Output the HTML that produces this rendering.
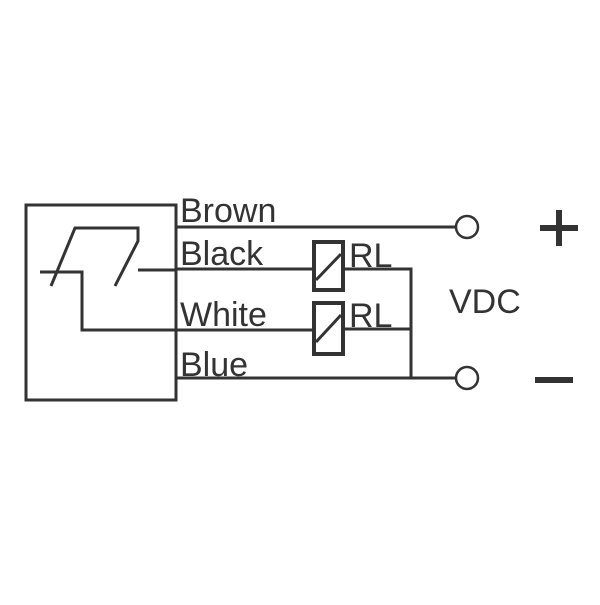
<!DOCTYPE html>
<html><head><style>html,body{margin:0;padding:0;background:#fff}</style></head>
<body>
<svg width="600" height="600" xmlns="http://www.w3.org/2000/svg">
<rect width="600" height="600" fill="#fff"/>
<g fill="none" stroke="#333" stroke-width="3">
<rect x="26" y="205" width="150" height="195"/>
<polyline points="51,286 75,228 138,228 138,241 115,286"/>
<polyline points="40,272 82,272 82,330 176,330"/>
<line x1="138" y1="270" x2="176" y2="270"/>
<line x1="176" y1="227" x2="457" y2="227"/>
<line x1="176" y1="269" x2="313" y2="269"/>
<line x1="176" y1="330" x2="313" y2="330"/>
<line x1="176" y1="378" x2="457" y2="378"/>
<rect x="314" y="242" width="29" height="48" stroke-width="4"/>
<rect x="314" y="303" width="29" height="51" stroke-width="4"/>
<line x1="316" y1="280" x2="341" y2="254"/>
<line x1="316" y1="342" x2="341" y2="315"/>
<polyline points="343,269 411,269 411,378"/>
<line x1="343" y1="329" x2="411" y2="329"/>
<circle cx="467" cy="227" r="11" stroke-width="2.5"/>
<circle cx="467" cy="378" r="11" stroke-width="2.5"/>
</g>
<g fill="#333">
<rect x="540" y="225" width="38" height="6"/>
<rect x="556" y="210" width="6" height="36"/>
<rect x="535" y="377" width="38" height="6"/>
</g>
<g font-family="Liberation Sans, sans-serif" font-size="34" fill="#333">
<text x="180" y="222">Brown</text>
<text x="180" y="265">Black</text>
<text x="180" y="326">White</text>
<text x="180" y="376">Blue</text>
<text x="349" y="267">RL</text>
<text x="349" y="327">RL</text>
<text x="449" y="313">VDC</text>
</g>
</svg>
</body></html>
